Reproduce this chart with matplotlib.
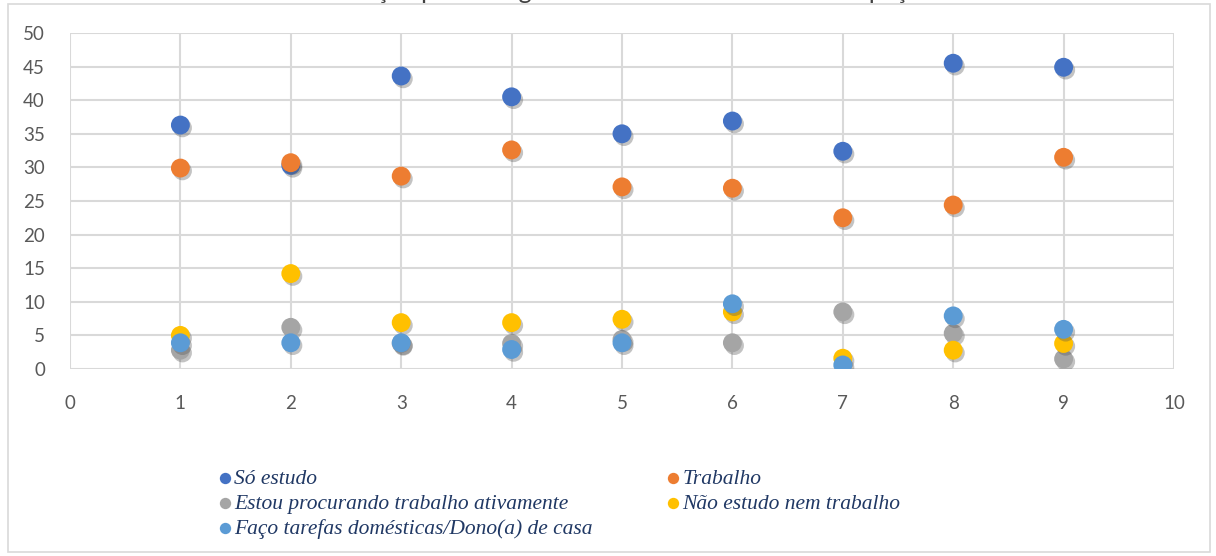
import matplotlib
matplotlib.use("Agg")
import matplotlib.pyplot as plt
import matplotlib.patheffects as pe
from matplotlib.patches import Rectangle

x_vals = [1, 2, 3, 4, 5, 6, 7, 8, 9]
so_estudo = [36.3, 30.3, 43.6, 40.5, 35.0, 36.9, 32.4, 45.5, 44.9]
trabalho = [29.9, 30.7, 28.7, 32.6, 27.1, 26.9, 22.5, 24.4, 31.5]
procurando = [2.8, 6.2, 3.8, 3.8, 4.4, 3.9, 8.5, 5.3, 1.5]
nao_estudo = [5.0, 14.2, 6.9, 6.9, 7.4, 8.5, 1.6, 2.8, 3.8]
tarefas = [3.9, 3.9, 3.9, 2.9, 3.9, 9.7, 0.6, 7.9, 5.9]

labels = ["Só estudo", "Trabalho", "Estou procurando trabalho ativamente",
          "Não estudo nem trabalho", "Faço tarefas domésticas/Dono(a) de casa"]
colors = ["#4472C4", "#ED7D31", "#A5A5A5", "#FFC000", "#5B9BD5"]
series = [so_estudo, trabalho, procurando, nao_estudo, tarefas]
title = "Distribuição porcentagem de estudantes em cada ocupação"

fig = plt.figure(figsize=(12.16, 5.56), dpi=100)
ax = fig.add_axes([70/1216, 1-369/556, (1174-70)/1216, (369-33)/556])

handles = []
for ys, c, lab in zip(series, colors, labels):
    sc = ax.scatter(x_vals, ys, s=185, color=c, label=lab, zorder=3, linewidths=0,
                    path_effects=[pe.SimplePatchShadow(offset=(1.5, -2), alpha=0.35, shadow_rgbFace="#555555"), pe.Normal()])
    handles.append(sc)

ax.set_xlim(0, 10)
ax.set_ylim(0, 50)
ax.set_xticks(range(0, 11))
ax.set_yticks(range(0, 51, 5))
ax.grid(True, color="#D9D9D9", linewidth=1.5, zorder=0)
ax.set_axisbelow(True)
for s in ax.spines.values():
    s.set_visible(False)
ax.tick_params(length=0, labelsize=13.5, labelcolor="#595959")
ax.tick_params(axis="x", pad=19)
ax.tick_params(axis="y", pad=18)
for t in ax.get_xticklabels() + ax.get_yticklabels():
    t.set_fontfamily("Lato")

order = [0, 2, 4, 1, 3]
leg = fig.legend([handles[i] for i in order], [labels[i] for i in order],
                 ncol=2, loc="upper left", bbox_to_anchor=(203/1216, 1-454/556),
                 frameon=False, handletextpad=0.15, handlelength=0.6, columnspacing=3.42,
                 labelspacing=0.22, markerscale=0.6, borderpad=0.2,
                 prop={"family": "Liberation Serif", "style": "italic", "size": 15.5})
for t in leg.get_texts():
    t.set_color("#203864")
for h in leg.legend_handles:
    h.set_path_effects([])

fig.patches.append(Rectangle((8/1216, 4/556), 1202/1216, 548/556, transform=fig.transFigure,
                             fill=False, edgecolor="#D9D9D9", linewidth=1.2))
fig.text(0.5, 1 + 1/556, title, ha="center", va="baseline", fontsize=18,
         family="Lato", color="#404040")

fig.savefig("out.png", dpi=100)
